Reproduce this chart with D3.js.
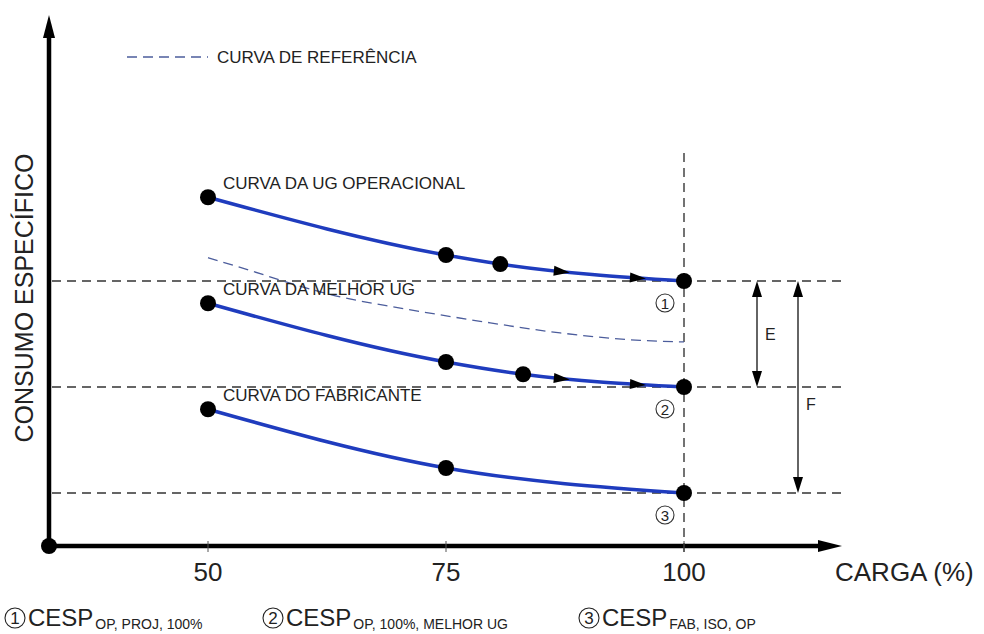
<!DOCTYPE html>
<html>
<head>
<meta charset="utf-8">
<script src="https://cdn.jsdelivr.net/npm/d3@7"></script>
<style>
body{margin:0;background:#fff;}
text{font-family:"Liberation Sans",Arial,sans-serif;fill:#222;}
</style>
</head>
<body>
<div id="chart"></div>
<script>
// data (load %, specific consumption in arbitrary units)
var xTicks=[50,75,100];
var opLoad=[50,75,80.7,100];
var opCesp=[32.9,27.45,26.6,25];
var bestLoad=[50,75,83.1,100];
var bestCesp=[22.9,17.36,16.2,15];
var fabLoad=[50,75,100];
var fabCesp=[12.9,7.36,5];
var refLoad=[50,54.4,58.6,63.9,70.2,78.6,87,95.4,100];
var refCesp=[27.2,26.0,24.8,23.5,22.45,21.2,20.1,19.4,19.25];
var levels=[25,15,5];
var levelNums=["1","2","3"];
var arrowLoads=[88,96];
var curveLabels=["CURVA DA UG OPERACIONAL","CURVA DA MELHOR UG","CURVA DO FABRICANTE"];
var noteSubs=["OP, PROJ, 100%","OP, 100%, MELHOR UG","FAB, ISO, OP"];

var w=984,h=634;
var svg=d3.select("#chart").append("svg").attr("width",w).attr("height",h);

var x=d3.scaleLinear().domain([50,100]).range([208,684]);
var y=d3.scaleLinear().domain([0,50]).range([546,16]);
var x0=49,y0=546,xEnd=842,yTop=15;

function zip(a,b){return a.map(function(d,i){return [d,b[i]];});}
var line=d3.line().x(function(d){return x(d[0]);}).y(function(d){return y(d[1]);}).curve(d3.curveMonotoneX);

// horizontal dashed levels
svg.selectAll(".lvl").data(levels).enter().append("line")
    .attr("x1",x0+3).attr("x2",xEnd).attr("y1",y).attr("y2",y)
    .attr("stroke","#333").attr("stroke-width",1.3).attr("stroke-dasharray","9,6");
// vertical dashed 100%
svg.append("line").attr("x1",x(100)).attr("x2",x(100)).attr("y1",153).attr("y2",556)
    .attr("stroke","#444").attr("stroke-width",1.5).attr("stroke-dasharray","9,6");

// axes
svg.append("line").attr("x1",x0).attr("y1",y0).attr("x2",x0).attr("y2",yTop+18)
    .attr("stroke","#000").attr("stroke-width",4.5);
svg.append("path").attr("d","M"+x0+","+yTop+"L"+(x0-6)+","+(yTop+23)+"L"+(x0+6)+","+(yTop+23)+"Z").attr("fill","#000");
svg.append("line").attr("x1",x0).attr("y1",y0).attr("x2",xEnd-18).attr("y2",y0)
    .attr("stroke","#000").attr("stroke-width",4.5);
svg.append("path").attr("d","M"+xEnd+","+y0+"L"+(xEnd-24)+","+(y0-6)+"L"+(xEnd-24)+","+(y0+6)+"Z").attr("fill","#000");
svg.append("circle").attr("cx",x0).attr("cy",y0).attr("r",8).attr("fill","#000");
svg.selectAll(".tk").data(xTicks).enter().append("line")
    .attr("x1",x).attr("x2",x).attr("y1",y0-5).attr("y2",y0+6).attr("stroke","#555").attr("stroke-width",1);
svg.selectAll(".tl").data(xTicks).enter().append("text").attr("x",x).attr("y",581)
    .attr("text-anchor","middle").attr("font-size",26).text(function(d){return d;});
svg.append("text").attr("x",835).attr("y",581).attr("font-size",26).text("CARGA (%)");
svg.append("text").attr("transform","translate(33,298) rotate(-90)").attr("text-anchor","middle")
    .attr("font-size",25).text("CONSUMO ESPECÍFICO");

// legend
svg.append("line").attr("x1",127).attr("x2",208).attr("y1",57).attr("y2",57)
    .attr("stroke","#4c5d9c").attr("stroke-width",1.3).attr("stroke-dasharray","10,6");
svg.append("text").attr("x",217).attr("y",63).attr("font-size",17).text("CURVA DE REFERÊNCIA");

// reference curve
svg.append("path").attr("d",line(zip(refLoad,refCesp))).attr("fill","none")
    .attr("stroke","#4c5d9c").attr("stroke-width",1.3).attr("stroke-dasharray","10,6");

var series=[zip(opLoad,opCesp),zip(bestLoad,bestCesp),zip(fabLoad,fabCesp)];
series.forEach(function(s,k){
    var p=svg.append("path").attr("d",line(s)).attr("fill","none")
        .attr("stroke","#1f3cbe").attr("stroke-width",3.5);
    if(k<2){
        var node=p.node(),len=node.getTotalLength();
        arrowLoads.forEach(function(a){
            var tx=x(a),lo=0,hi=len;
            for(var i=0;i<40;i++){var m=(lo+hi)/2;if(node.getPointAtLength(m).x<tx)lo=m;else hi=m;}
            var pt=node.getPointAtLength(lo),pb=node.getPointAtLength(Math.max(0,lo-16));
            var ang=Math.atan2(pt.y-pb.y,pt.x-pb.x),c=Math.cos(ang),sn=Math.sin(ang);
            var bx=pt.x-16*c,by=pt.y-16*sn;
            svg.append("path").attr("d","M"+pt.x+","+pt.y+"L"+(bx-5*sn)+","+(by+5*c)+"L"+(bx+5*sn)+","+(by-5*c)+"Z")
                .attr("fill","#000");
        });
    }
    svg.selectAll(".dot"+k).data(s).enter().append("circle")
        .attr("cx",function(d){return x(d[0]);}).attr("cy",function(d){return y(d[1]);})
        .attr("r",8).attr("fill","#000");
    svg.append("text").attr("x",x(s[0][0])+15).attr("y",y(s[0][1])-8).attr("font-size",17).text(curveLabels[k]);
});

// circled numbers at 100%
var cn=svg.selectAll(".cn").data(levels).enter().append("g")
    .attr("transform",function(d){return "translate("+(x(100)-19)+","+(y(d)+22)+")";});
cn.append("circle").attr("r",9).attr("fill","#fff").attr("stroke","#333").attr("stroke-width",1.1);
cn.append("text").attr("text-anchor","middle").attr("y",5.5).attr("font-size",15).text(function(d,i){return levelNums[i];});

// E and F dimension arrows
function dimArrow(px,ya,yb,label,ly){
    svg.append("line").attr("x1",px).attr("x2",px).attr("y1",ya+12).attr("y2",yb-12).attr("stroke","#111").attr("stroke-width",1.3);
    svg.append("path").attr("d","M"+px+","+ya+"L"+(px-5)+","+(ya+16)+"L"+(px+5)+","+(ya+16)+"Z").attr("fill","#000");
    svg.append("path").attr("d","M"+px+","+yb+"L"+(px-5)+","+(yb-16)+"L"+(px+5)+","+(yb-16)+"Z").attr("fill","#000");
    svg.append("text").attr("x",px+8).attr("y",ly).attr("font-size",16).text(label);
}
dimArrow(x(100)+73,y(levels[0]),y(levels[1]),"E",340);
dimArrow(x(100)+114,y(levels[0]),y(levels[2]),"F",410);

// footnote
var noteX=[4,262,578];
noteSubs.forEach(function(sub,i){
    var g=svg.append("g").attr("transform","translate("+noteX[i]+",0)");
    g.append("circle").attr("cx",11).attr("cy",618).attr("r",10).attr("fill","none").attr("stroke","#222").attr("stroke-width",1.1);
    g.append("text").attr("x",11).attr("y",624).attr("text-anchor","middle").attr("font-size",17).text(levelNums[i]);
    var t=g.append("text").attr("x",24).attr("y",626).attr("font-size",24).text("CESP");
    var tw=t.node().getComputedTextLength();
    g.append("text").attr("x",24+tw+2).attr("y",629).attr("font-size",14).text(sub);
});
</script>
</body>
</html>
